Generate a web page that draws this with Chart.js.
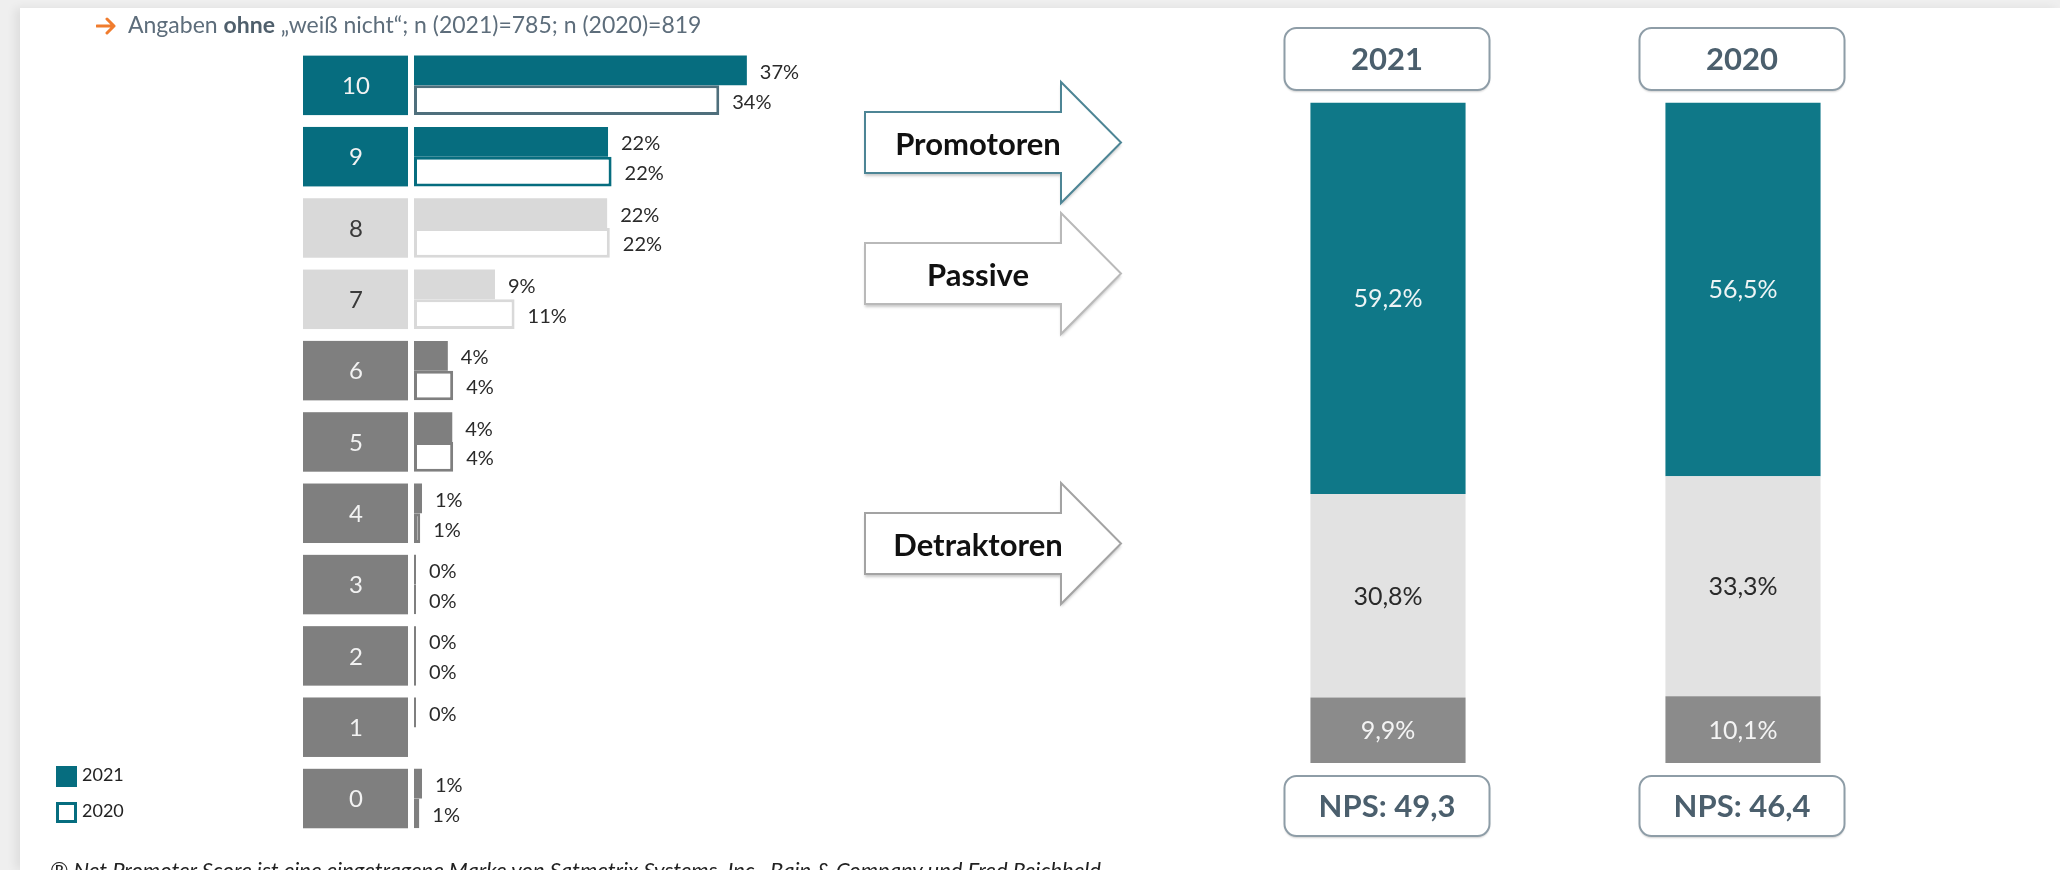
<!DOCTYPE html>
<html lang="de">
<head>
<meta charset="utf-8">
<title>NPS 2021 / 2020</title>
<script src="https://cdn.jsdelivr.net/npm/chart.js@4.4.1/dist/chart.umd.min.js"></script>
<style>
  html, body { margin: 0; padding: 0; }
  body {
    width: 2060px; height: 870px; overflow: hidden; position: relative;
    background: #efefef; font-family: Lato, "Open Sans", sans-serif;
  }
  #card {
    position: absolute; left: 20px; top: 8px; right: 0; bottom: 0;
    background: #fff; box-shadow: -5px 0 9px rgba(0,0,0,0.07);
  }
  #leftChart { position: absolute; left: 0; top: 0; }
  #rightChart { position: absolute; left: 840px; top: 0; }
  #note {
    position: absolute; left: 96px; top: 10px; white-space: nowrap;
    font-size: 23px; color: #5d6d7b;
  }
  #note svg { vertical-align: -2px; margin-right: 11px; }
  #note b { color: #4f5f6c; }
  .legend { position: absolute; left: 56px; font-size: 18px; color: #222; white-space: nowrap; }
  .legend i { display: inline-block; width: 21px; height: 21px; vertical-align: middle; margin-right: 5px; box-sizing: border-box; }
  #lg2021 { top: 763px; }
  #lg2021 i { background: #066d7f; }
  #lg2020 { top: 799px; }
  #lg2020 i { border: 3px solid #066d7f; background: #fff; }
  #foot {
    position: absolute; left: 50px; top: 856px; white-space: nowrap;
    font-size: 22px; font-style: italic; color: #222;
  }
</style>
</head>
<body>
<div id="card"></div>
<canvas id="leftChart" width="840" height="870"></canvas>
<canvas id="rightChart" width="1220" height="870"></canvas>
<div id="note"><svg width="21" height="18" viewBox="0 0 21 18"><path d="M1 9 H18 M11 2 L18 9 L11 16" fill="none" stroke="#f07c2e" stroke-width="3" stroke-linecap="round" stroke-linejoin="round"/></svg>Angaben <b>ohne</b> „weiß nicht“; n (2021)=785; n (2020)=819</div>
<div class="legend" id="lg2021"><i></i>2021</div>
<div class="legend" id="lg2020"><i></i>2020</div>
<div id="foot">® Net Promoter Score ist eine eingetragene Marke von Satmetrix Systems, Inc., Bain &amp; Company und Fred Reichheld</div>

<script>
/* ---- Data: share per score (%) ---- */
const SCORES = ["10", "9", "8", "7", "6", "5", "4", "3", "2", "1", "0"];
const SHARE_2021 = [37.4, 21.8, 21.7, 9.1, 3.8, 4.3, 0.9, 0, 0, 0, 0.9];
const SHARE_2020 = [34.3, 22.2, 22.0, 11.3, 4.4, 4.4, 0.7, 0, 0, null, 0.6];

/* ---- Data: NPS groups (%) ---- */
const YEARS = ["2021", "2020"];
const PROMOTOREN = [59.2, 56.5];
const PASSIVE = [30.8, 33.3];
const DETRAKTOREN = [9.9, 10.1];

/* ---- Styles ---- */
const FONT = "Lato, 'Open Sans', sans-serif";
const LEFT = { teal: "#066d7f", light: "#d9d9d9", dark: "#7f7f7f" };
const RIGHT = { teal: "#0f7888", light: "#e2e2e2", dark: "#8b8b8b" };
const SLATE = "#4b5f6d";

const pct = (v) => v.toFixed(1).replace(".", ",") + "%";

function groupColor(score) {
  const s = Number(score);
  if (s >= 9) return LEFT.teal;
  if (s >= 7) return LEFT.light;
  return LEFT.dark;
}
function outlineColor(score) {
  if (score === "10") return "#4f6f7c";   // the top row is outlined a bit greyer
  return groupColor(score);
}
function boxText(score) {
  return Number(score) === 7 || Number(score) === 8 ? "#3a3a3a" : "#f2f2f2";
}

/* ---------- Left chart helpers ---------- */

const scoreBoxes = {
  id: "scoreBoxes",
  afterDatasetsDraw(chart) {
    const { ctx, chartArea } = chart;
    const y = chart.scales.y;
    const pitch = y.getPixelForValue(1) - y.getPixelForValue(0);
    const h = pitch * 0.834;
    ctx.save();
    SCORES.forEach((s, i) => {
      const cy = y.getPixelForValue(i);
      ctx.fillStyle = groupColor(s);
      ctx.fillRect(chartArea.left - 111, cy - h / 2, 105, h);
      ctx.fillStyle = boxText(s);
      ctx.font = `24px ${FONT}`;
      ctx.textAlign = "center";
      ctx.textBaseline = "middle";
      ctx.fillText(s, chartArea.left - 58, cy + 1);
    });
    ctx.restore();
  },
};

const barLabels = {
  id: "barLabels",
  afterDatasetsDraw(chart) {
    const { ctx } = chart;
    ctx.save();
    ctx.font = `20px ${FONT}`;
    ctx.fillStyle = "#2a2a2a";
    ctx.textBaseline = "middle";
    ctx.textAlign = "left";
    chart.data.datasets.forEach((ds, di) => {
      chart.getDatasetMeta(di).data.forEach((el, i) => {
        const v = ds.data[i];
        if (v === null || v === undefined) return;
        ctx.fillText(Math.round(v) + "%", el.x + 13, el.y + 2);
      });
    });
    ctx.restore();
  },
};

/* ---------- Right chart helpers ---------- */

function roundBox(ctx, cx, top, w, h, text) {
  const x = cx - w / 2, r = 12;
  ctx.save();
  ctx.shadowColor = "rgba(0,0,0,0.18)";
  ctx.shadowOffsetY = 2;
  ctx.shadowBlur = 2;
  ctx.beginPath();
  ctx.roundRect(x, top, w, h, r);
  ctx.fillStyle = "#fff";
  ctx.fill();
  ctx.shadowColor = "transparent";
  ctx.lineWidth = 2;
  ctx.strokeStyle = "#8e9da7";
  ctx.stroke();
  ctx.fillStyle = SLATE;
  ctx.font = `bold 31px ${FONT}`;
  ctx.textAlign = "center";
  ctx.textBaseline = "middle";
  ctx.fillText(text, cx, top + h / 2 + 1);
  ctx.restore();
}

const yearBoxes = {
  id: "yearBoxes",
  afterDatasetsDraw(chart) {
    const { ctx } = chart;
    const x = chart.scales.x;
    YEARS.forEach((yr, i) => {
      const cx = x.getPixelForValue(i) - 1;
      roundBox(ctx, cx, 28, 205, 62, yr);
      const nps = (PROMOTOREN[i] - DETRAKTOREN[i]).toFixed(1).replace(".", ",");
      roundBox(ctx, cx, 776, 205, 60, "NPS: " + nps);
    });
  },
};

const segmentLabels = {
  id: "segmentLabels",
  afterDatasetsDraw(chart) {
    const { ctx } = chart;
    ctx.save();
    ctx.font = `25px ${FONT}`;
    ctx.textAlign = "center";
    ctx.textBaseline = "middle";
    chart.data.datasets.forEach((ds, di) => {
      ctx.fillStyle = ds.labelColor;
      chart.getDatasetMeta(di).data.forEach((el, i) => {
        ctx.fillText(pct(ds.data[i]), el.x, (el.y + el.base) / 2 + 1);
      });
    });
    ctx.restore();
  },
};

// Block arrows pointing from the group names to the stacked bars
const ARROWS = [
  { text: "Promotoren", top: 82, stroke: "#4d8595" },
  { text: "Passive", top: 213, stroke: "#b9b9b9" },
  { text: "Detraktoren", top: 483, stroke: "#a3a3a3" },
];

const groupArrows = {
  id: "groupArrows",
  afterDraw(chart) {
    const { ctx } = chart;
    ARROWS.forEach((a) => {
      const x0 = 25, x1 = 221, x2 = 281;
      const t = a.top, b = a.top + 121, mid = a.top + 60.5;
      ctx.save();
      ctx.beginPath();
      ctx.moveTo(x0, t + 30);
      ctx.lineTo(x1, t + 30);
      ctx.lineTo(x1, t);
      ctx.lineTo(x2, mid);
      ctx.lineTo(x1, b);
      ctx.lineTo(x1, b - 30);
      ctx.lineTo(x0, b - 30);
      ctx.closePath();
      ctx.shadowColor = "rgba(0,0,0,0.22)";
      ctx.shadowOffsetY = 3;
      ctx.shadowBlur = 3;
      ctx.fillStyle = "#fff";
      ctx.fill();
      ctx.shadowColor = "transparent";
      ctx.lineWidth = 2;
      ctx.strokeStyle = a.stroke;
      ctx.stroke();
      ctx.fillStyle = "#111";
      ctx.font = `bold 31px ${FONT}`;
      ctx.textAlign = "center";
      ctx.textBaseline = "middle";
      ctx.fillText(a.text, 138, mid + 2);
      ctx.restore();
    });
  },
};

/* ---------- Charts ---------- */

new Chart(document.getElementById("leftChart"), {
  type: "bar",
  data: {
    labels: SCORES,
    datasets: [
      { label: "2021", data: SHARE_2021, backgroundColor: SCORES.map(groupColor), borderWidth: 0 },
      {
        label: "2020", data: SHARE_2020, backgroundColor: "#ffffff",
        borderColor: SCORES.map(outlineColor), borderWidth: 3, borderSkipped: false,
      },
    ],
  },
  options: {
    indexAxis: "y",
    responsive: false,
    animation: false,
    devicePixelRatio: 1,
    layout: { padding: { left: 414, right: 70, top: 49.7, bottom: 35.8 } },
    scales: {
      x: { display: false, min: 0, max: 40 },
      y: { display: false },
    },
    datasets: { bar: { categoryPercentage: 0.834, barPercentage: 1, minBarLength: 2 } },
    plugins: { legend: { display: false }, tooltip: { enabled: false } },
  },
  plugins: [scoreBoxes, barLabels],
});

new Chart(document.getElementById("rightChart"), {
  type: "bar",
  data: {
    labels: YEARS,
    datasets: [
      { label: "Detraktoren", data: DETRAKTOREN, backgroundColor: RIGHT.dark, labelColor: "#f4f4f4" },
      { label: "Passive", data: PASSIVE, backgroundColor: RIGHT.light, labelColor: "#2a2a2a" },
      { label: "Promotoren", data: PROMOTOREN, backgroundColor: RIGHT.teal, labelColor: "#eef4f5" },
    ],
  },
  options: {
    responsive: false,
    animation: false,
    devicePixelRatio: 1,
    layout: { padding: { left: 370.5, right: 139.5, top: 102, bottom: 107 } },
    scales: {
      x: { display: false, stacked: true },
      y: { display: false, stacked: true, min: 0, max: 100 },
    },
    datasets: { bar: { categoryPercentage: 1, barPercentage: 0.437 } },
    plugins: { legend: { display: false }, tooltip: { enabled: false } },
  },
  plugins: [segmentLabels, yearBoxes, groupArrows],
});
</script>
</body>
</html>
